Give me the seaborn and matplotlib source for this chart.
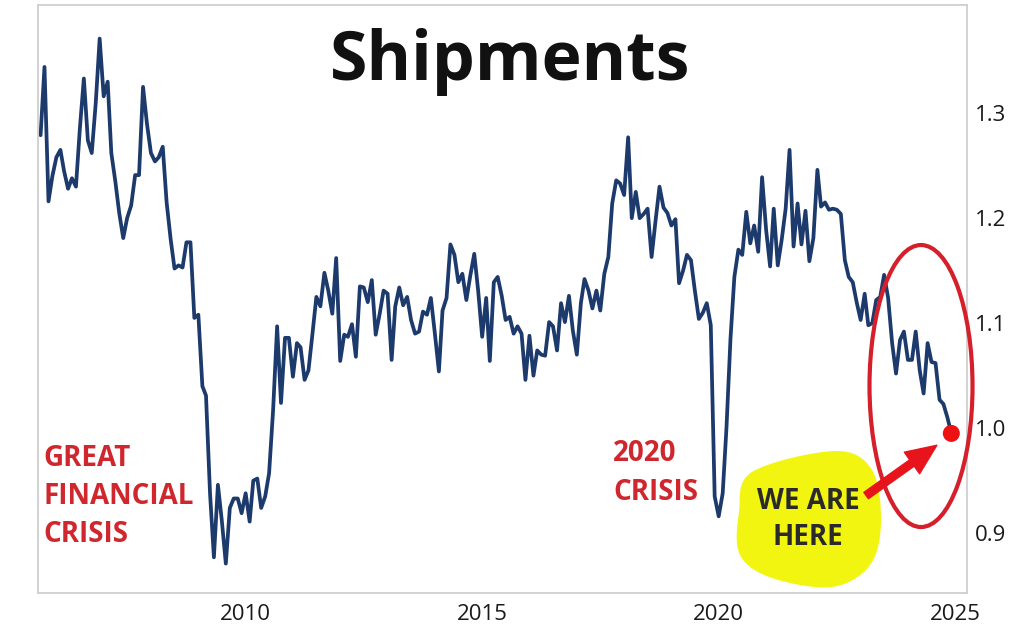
import numpy as np
import pandas as pd
import matplotlib
matplotlib.use("Agg")
import matplotlib.pyplot as plt
import matplotlib.dates as mdates
from matplotlib.patches import Ellipse, PathPatch, FancyArrowPatch
from matplotlib.path import Path
import seaborn as sns

# monthly shipments index, Sep 2005 .. Dec 2024
start_month = "2005-09-01"
shipments = [
    1.279, 1.344, 1.216, 1.240,
    1.258, 1.265, 1.245, 1.228, 1.238, 1.230, 1.285, 1.333, 1.274, 1.262, 1.310, 1.371,  # 2006
    1.316, 1.330, 1.262, 1.235, 1.205, 1.181, 1.200, 1.212, 1.241, 1.241, 1.325, 1.290,  # 2007
    1.262, 1.254, 1.258, 1.268, 1.215, 1.180, 1.152, 1.155, 1.153, 1.177, 1.177, 1.105,  # 2008
    1.108, 1.040, 1.031, 0.938, 0.877, 0.946, 0.912, 0.871, 0.924, 0.933, 0.933, 0.919,  # 2009
    0.938, 0.911, 0.950, 0.952, 0.924, 0.935, 0.957, 1.017, 1.097, 1.024, 1.086, 1.086,  # 2010
    1.049, 1.081, 1.077, 1.046, 1.055, 1.090, 1.125, 1.116, 1.148, 1.131, 1.109, 1.162,  # 2011
    1.064, 1.089, 1.087, 1.099, 1.068, 1.135, 1.134, 1.120, 1.141, 1.089, 1.109, 1.131,  # 2012
    1.128, 1.065, 1.116, 1.134, 1.117, 1.125, 1.103, 1.090, 1.092, 1.111, 1.108, 1.124,  # 2013
    1.090, 1.054, 1.112, 1.124, 1.175, 1.165, 1.139, 1.147, 1.122, 1.145, 1.166, 1.131,  # 2014
    1.087, 1.124, 1.064, 1.139, 1.144, 1.126, 1.103, 1.106, 1.090, 1.097, 1.090, 1.046,  # 2015
    1.088, 1.050, 1.074, 1.070, 1.069, 1.101, 1.097, 1.074, 1.119, 1.101, 1.126, 1.093,  # 2016
    1.070, 1.119, 1.142, 1.131, 1.114, 1.131, 1.112, 1.147, 1.163, 1.214, 1.236, 1.233,  # 2017
    1.222, 1.277, 1.200, 1.225, 1.200, 1.204, 1.209, 1.163, 1.198, 1.230, 1.210, 1.205,  # 2018
    1.193, 1.199, 1.138, 1.150, 1.165, 1.160, 1.131, 1.104, 1.110, 1.119, 1.098, 0.935,  # 2019
    0.916, 0.938, 1.000, 1.085, 1.144, 1.170, 1.165, 1.206, 1.176, 1.193, 1.168, 1.239,  # 2020
    1.189, 1.154, 1.209, 1.155, 1.179, 1.209, 1.265, 1.173, 1.214, 1.175, 1.207, 1.159,  # 2021
    1.181, 1.246, 1.211, 1.215, 1.208, 1.209, 1.208, 1.204, 1.160, 1.144, 1.139, 1.120,  # 2022
    1.103, 1.128, 1.098, 1.100, 1.122, 1.125, 1.146, 1.124, 1.081, 1.052, 1.084, 1.092,  # 2023
    1.065, 1.065, 1.092, 1.055, 1.033, 1.081, 1.063, 1.062, 1.027, 1.023, 1.010, 0.995,  # 2024
]
y_ticks = [0.9, 1.0, 1.1, 1.2, 1.3]
title = "Shipments"
label_gfc = "GREAT\nFINANCIAL\nCRISIS"
label_2020 = "2020\nCRISIS"
label_here = "WE ARE\nHERE"

df = pd.DataFrame({
    "date": pd.date_range(start_month, periods=len(shipments), freq="MS"),
    "shipments": shipments,
})

sns.set_theme(style="white")
plt.rcParams["font.family"] = ["Open Sans", "DejaVu Sans"]

navy = "#1d3a6c"
crisis_red = "#d0262d"

fig = plt.figure(figsize=(10.15, 6.43), dpi=100)
ax = fig.add_axes([38 / 1015, 50 / 643, 929 / 1015, 588 / 643])

sns.lineplot(data=df, x="date", y="shipments", color=navy, linewidth=2.7, ax=ax)
sns.scatterplot(x=df["date"].iloc[-1:], y=df["shipments"].iloc[-1:], color="#ee1111",
                s=150, edgecolor="none", zorder=5, ax=ax)

ax.set_xlim(pd.Timestamp("2005-08-12"), pd.Timestamp("2025-04-01"))
ax.set_ylim(0.843, 1.403)
ax.set_xlabel("")
ax.set_ylabel("")

ax.xaxis.set_major_locator(mdates.YearLocator(5))
ax.xaxis.set_major_formatter(mdates.DateFormatter("%Y"))
ax.set_yticks(y_ticks)
ax.set_yticklabels([f"{v:.1f}" for v in y_ticks])
ax.yaxis.tick_right()
ax.tick_params(axis="y", length=0, pad=6, labelsize=16, labelcolor="#1a1a1a")
ax.tick_params(axis="x", length=0, pad=8, labelsize=16, labelcolor="#1a1a1a")

for side in ["left", "right", "top", "bottom"]:
    ax.spines[side].set_visible(True)
    ax.spines[side].set_color("#cfcfcf")
    ax.spines[side].set_linewidth(1.3)

# title inside the plot
ax.text(0.508, 0.903, title, transform=ax.transAxes, ha="center", va="center",
        fontsize=49, fontweight="bold", color="#111111")

# crisis labels
ax.text(0.0054, 0.164, label_gfc, transform=ax.transAxes, ha="left", va="center",
        fontsize=20, fontweight="bold", color=crisis_red, linespacing=1.42)
ax.text(0.619, 0.204, label_2020, transform=ax.transAxes, ha="left", va="center",
        fontsize=20, fontweight="bold", color=crisis_red, linespacing=1.42)

# yellow blob behind "WE ARE HERE" (smooth closed curve through a few points)
blob_px = [(835, 451), (872, 470), (881, 522), (870, 565), (832, 587),
           (772, 578), (740, 555), (739, 512), (752, 472)]
pts = np.array([((x - 38) / 929, (593 - y) / 588) for x, y in blob_px])
n = len(pts)
verts = [pts[0]]
codes = [Path.MOVETO]
for i in range(n):
    p0, p1, p2, p3 = pts[i - 1], pts[i], pts[(i + 1) % n], pts[(i + 2) % n]
    verts += [p1 + (p2 - p0) / 6, p2 - (p3 - p1) / 6, p2]
    codes += [Path.CURVE4] * 3
blob = PathPatch(Path(verts, codes), transform=ax.transAxes, facecolor="#f2f50f",
                 edgecolor="none", zorder=1)
ax.add_patch(blob)
ax.text(0.829, 0.125, label_here, transform=ax.transAxes, ha="center", va="center",
        fontsize=20, fontweight="bold", color="#2a2a2a", linespacing=1.3, zorder=3)

# red circle around the latest readings
ring = Ellipse((0.9505, 0.352), 0.1109, 0.4796, transform=ax.transAxes, fill=False,
               edgecolor="#d5202b", linewidth=3, clip_on=False, zorder=4)
ax.add_patch(ring)

arrow = FancyArrowPatch((0.889, 0.163), (0.970, 0.254), transform=ax.transAxes,
                        arrowstyle="simple,head_length=1.1,head_width=0.95,tail_width=0.28",
                        mutation_scale=20, color="#e8141b", zorder=6)
ax.add_patch(arrow)

fig.savefig("out.png", dpi=100)
